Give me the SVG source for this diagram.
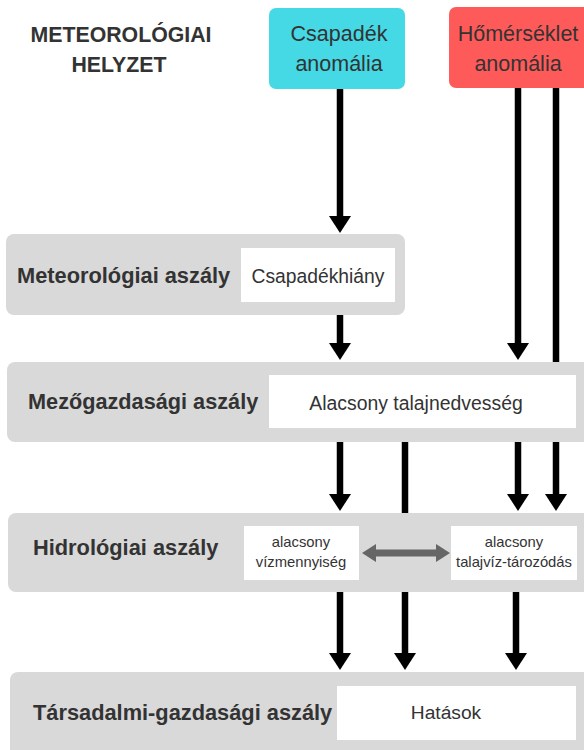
<svg xmlns="http://www.w3.org/2000/svg" width="584" height="750" viewBox="0 0 584 750">
<style>
.bold{font-family:"Liberation Sans",Arial,sans-serif;font-weight:bold;fill:#333;}
.reg{font-family:"Liberation Sans",Arial,sans-serif;fill:#333;}
.band{fill:#D9D9D9;}
.wbox{fill:#FFFFFF;}
.conn{stroke:#000;stroke-width:6.5;fill:none;}
</style>
<defs>
<marker id="ah" markerUnits="userSpaceOnUse" markerWidth="17" markerHeight="22" refX="7" refY="11" orient="auto" viewBox="0 0 17 22">
<path d="M0,0 L17,11 L0,22 Z" fill="#000"/>
</marker>
<marker id="gh" markerUnits="userSpaceOnUse" markerWidth="14" markerHeight="18" refX="8" refY="9" orient="auto-start-reverse" viewBox="0 0 14 18">
<path d="M0,0 L14,9 L0,18 Z" fill="#666"/>
</marker>
</defs>
<rect width="584" height="750" fill="#FFFFFF"/>

<g id="title">
<text class="bold" x="121" y="42" font-size="21.3" text-anchor="middle">METEOROLÓGIAI</text>
<text class="bold" x="119" y="72" font-size="21.3" text-anchor="middle">HELYZET</text>
</g>

<g id="csapadek">
<rect x="269" y="8" width="136" height="81" rx="7" fill="#45D8E5"/>
<text class="reg" x="339" y="41" font-size="21.5" text-anchor="middle">Csapadék</text>
<text class="reg" x="339" y="71" font-size="21.5" text-anchor="middle">anomália</text>
</g>

<g id="homerseklet">
<rect x="449" y="7" width="142" height="81" rx="7" fill="#FF5A5A"/>
<text class="reg" x="518" y="41" font-size="21.5" text-anchor="middle">Hőmérséklet</text>
<text class="reg" x="518" y="71" font-size="21.5" text-anchor="middle">anomália</text>
</g>

<g id="meteorologiai">
<rect class="band" x="6" y="234" width="399" height="81" rx="8"/>
<rect class="wbox" x="241" y="248" width="154" height="54"/>
<text class="bold" x="17" y="283" font-size="21.8">Meteorológiai aszály</text>
<text class="reg" x="318" y="283" font-size="19.3" text-anchor="middle">Csapadékhiány</text>
</g>

<g id="mezogazdasagi">
<rect class="band" x="7" y="362" width="584" height="80" rx="8"/>
<rect class="wbox" x="269" y="375" width="307" height="53"/>
<text class="bold" x="28" y="409" font-size="21.7">Mezőgazdasági aszály</text>
<text class="reg" x="416" y="410" font-size="19.4" text-anchor="middle">Alacsony talajnedvesség</text>
</g>

<g id="hidrologiai">
<rect class="band" x="8" y="513" width="583" height="79" rx="8"/>
<rect class="wbox" x="244" y="526" width="115" height="54"/>
<rect class="wbox" x="451" y="526" width="126" height="54"/>
<text class="bold" x="33" y="555" font-size="21.8">Hidrológiai aszály</text>
<text class="reg" x="301" y="547" font-size="14.8" text-anchor="middle">alacsony</text>
<text class="reg" x="301" y="567" font-size="14.8" text-anchor="middle">vízmennyiség</text>
<text class="reg" x="514" y="547" font-size="14.8" text-anchor="middle">alacsony</text>
<text class="reg" x="514" y="567" font-size="14.8" text-anchor="middle">talajvíz-tározódás</text>
</g>

<g id="tarsadalmi">
<rect class="band" x="10" y="672" width="584" height="90" rx="8"/>
<rect class="wbox" x="337" y="686" width="239" height="54"/>
<text class="bold" x="33" y="720" font-size="21.8">Társadalmi-gazdasági aszály</text>
<text class="reg" x="446" y="719" font-size="19.2" text-anchor="middle">Hatások</text>
</g>

<g id="connectors">
<line class="conn" x1="340" y1="89" x2="340" y2="223" marker-end="url(#ah)"/>
<line class="conn" x1="340" y1="315" x2="340" y2="350" marker-end="url(#ah)"/>
<line class="conn" x1="518" y1="88" x2="518" y2="350" marker-end="url(#ah)"/>
<line class="conn" x1="556" y1="88" x2="556" y2="362"/>
<line class="conn" x1="340" y1="442" x2="340" y2="501" marker-end="url(#ah)"/>
<line class="conn" x1="405" y1="442" x2="405" y2="513"/>
<line class="conn" x1="518" y1="442" x2="518" y2="501" marker-end="url(#ah)"/>
<line class="conn" x1="556" y1="442" x2="556" y2="501" marker-end="url(#ah)"/>
<line class="conn" x1="340" y1="592" x2="340" y2="660" marker-end="url(#ah)"/>
<line class="conn" x1="405" y1="592" x2="405" y2="660" marker-end="url(#ah)"/>
<line class="conn" x1="516" y1="592" x2="516" y2="660" marker-end="url(#ah)"/>
<line x1="368" y1="553" x2="444" y2="553" stroke="#666" stroke-width="7" marker-start="url(#gh)" marker-end="url(#gh)"/>
</g>
</svg>
